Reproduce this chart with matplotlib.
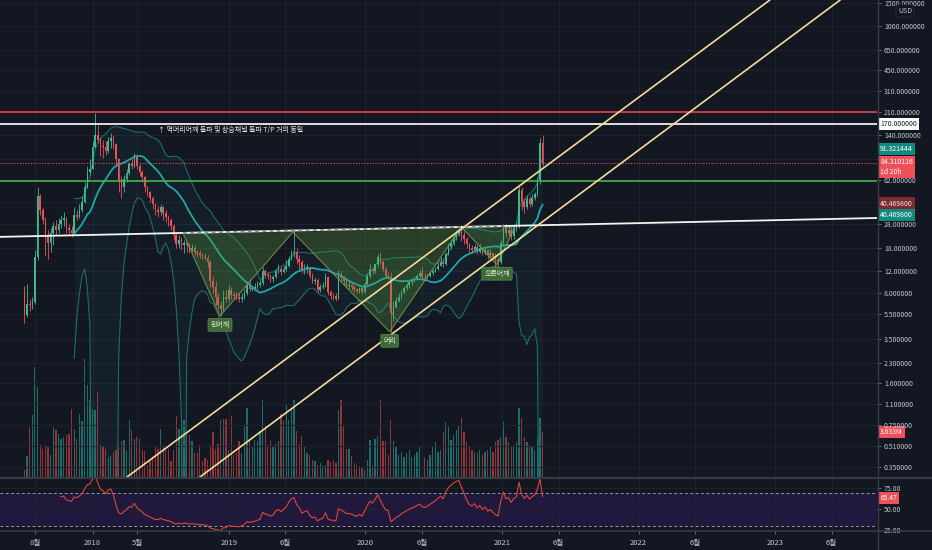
import matplotlib
matplotlib.use('Agg')
import matplotlib.pyplot as plt
import matplotlib.dates as mdates
from matplotlib.lines import Line2D
from matplotlib.ticker import NullLocator
import numpy as np
import pandas as pd

plt.rcParams['font.family'] = ['Noto Sans CJK KR', 'DejaVu Sans']

# weekly candles, first bar opens 2017-07-03
first_week = '2017-07-03'
first_open = 8.5
closes = [5.4, 6.6, 6.5, 6.8, 15.5, 46.0, 36.0, 30.0, 23.0, 20.0,
          24.0, 27.0, 25.0, 28.0, 30.0, 31.0, 26.0, 25.0, 24.0, 33.0,
          32.0, 36.0, 42.0, 55.0, 72.0, 76.0, 112.0, 140.0, 128.0, 115.0,
          112.0, 105.0, 125.0, 132.0, 118.0, 90.0, 60.0, 55.0, 63.0, 70.0,
          82.0, 80.0, 95.0, 80.0, 72.0, 65.0, 55.0, 50.0, 45.0, 40.0,
          36.0, 35.0, 38.0, 34.0, 32.0, 30.0, 27.0, 23.0, 19.5, 21.0,
          19.0, 20.0, 19.0, 17.5, 18.0, 17.0, 16.5, 16.0, 15.5, 15.3,
          14.0, 10.0, 9.0, 7.5, 6.5, 6.0, 7.5, 7.3, 8.5, 7.8,
          7.6, 7.5, 7.2, 7.5, 8.1, 9.2, 8.6, 8.8, 9.0, 9.3,
          9.6, 12.0, 11.2, 11.0, 10.3, 10.7, 12.0, 12.5, 11.8, 12.5,
          13.2, 15.0, 16.5, 17.0, 15.0, 14.0, 12.0, 12.5, 12.8, 11.0,
          10.0, 10.2, 8.5, 9.0, 9.2, 10.8, 8.2, 7.7, 7.6, 7.3,
          11.0, 10.5, 10.0, 9.2, 9.3, 9.0, 8.6, 8.3, 8.8, 8.2,
          9.5, 11.0, 12.5, 12.0, 13.5, 15.5, 14.0, 12.5, 11.0, 10.8,
          5.6, 6.3, 7.0, 7.5, 8.2, 8.8, 9.3, 9.8, 10.2, 10.5,
          11.0, 11.5, 10.8, 10.6, 11.0, 11.5, 12.0, 12.5, 13.2, 14.0,
          13.5, 16.3, 18.5, 20.0, 22.0, 23.5, 24.5, 23.0, 21.5, 19.5,
          18.0, 17.5, 18.5, 17.0, 18.0, 16.5, 17.5, 16.0, 16.5, 15.5,
          14.5, 14.0, 20.0, 27.0, 24.0, 25.0, 22.5, 26.0, 27.0, 52.0,
          42.0, 38.0, 44.0, 40.0, 45.0, 48.0, 62.0, 120.5, 84.310116]
highs = [9.2, 9.5, 7.2, 7.5, 17.5, 55.0, 48.0, 38.0, 32.0, 25.0,
         26.0, 29.0, 30.0, 31.0, 33.0, 35.0, 32.0, 28.0, 27.0, 38.0,
         36.0, 40.0, 46.0, 60.0, 80.0, 90.0, 125.0, 207.0, 168.0, 135.0,
         128.0, 125.0, 135.0, 145.0, 140.0, 120.0, 92.0, 66.0, 68.0, 75.0,
         86.0, 90.0, 100.0, 98.0, 82.0, 74.0, 66.0, 56.0, 51.0, 46.0,
         41.0, 39.0, 40.0, 39.0, 36.0, 33.0, 31.0, 28.0, 24.0, 23.0,
         22.0, 21.0, 20.5, 20.0, 19.5, 19.0, 17.5, 17.5, 16.5, 16.5,
         16.0, 14.5, 11.0, 10.0, 8.0, 7.0, 8.5, 8.5, 9.3, 9.0,
         8.2, 8.2, 8.0, 8.0, 8.6, 10.0, 10.3, 9.3, 9.6, 10.0,
         10.2, 12.8, 12.5, 11.8, 11.3, 11.2, 12.4, 13.5, 13.0, 13.2,
         14.5, 15.8, 17.5, 24.5, 18.0, 16.0, 14.5, 13.5, 13.5, 13.0,
         11.5, 10.8, 10.5, 9.5, 9.8, 11.5, 11.0, 8.5, 8.1, 8.0,
         12.3, 12.0, 11.0, 10.4, 9.8, 9.7, 9.3, 8.9, 9.0, 9.0,
         9.9, 11.5, 13.5, 13.0, 13.8, 16.3, 17.0, 14.5, 13.0, 11.8,
         11.8, 7.0, 7.5, 8.0, 8.5, 9.2, 9.6, 10.2, 10.6, 11.0,
         11.4, 12.3, 12.8, 11.5, 11.4, 11.8, 12.5, 13.0, 14.0, 15.5,
         14.8, 17.0, 20.0, 21.5, 23.0, 25.0, 26.0, 27.5, 24.5, 22.0,
         20.0, 19.0, 19.5, 19.2, 19.5, 18.5, 18.5, 17.8, 17.8, 17.0,
         16.5, 15.5, 21.0, 28.0, 28.5, 27.0, 26.5, 28.0, 29.0, 56.0,
         55.0, 45.0, 47.0, 46.0, 48.0, 50.0, 65.0, 132.0, 140.0]
lows = [4.7, 5.2, 5.8, 6.0, 6.6, 14.5, 33.0, 28.0, 15.8, 15.0,
        17.0, 19.0, 23.0, 24.0, 26.0, 27.0, 24.0, 23.0, 22.0, 24.0,
        30.0, 31.0, 35.0, 41.0, 54.0, 68.0, 76.0, 110.0, 120.0, 95.0,
        92.0, 98.0, 100.0, 110.0, 108.0, 80.0, 50.0, 45.0, 50.0, 60.0,
        68.0, 75.0, 78.0, 76.0, 66.0, 60.0, 50.0, 46.0, 42.0, 37.0,
        33.0, 32.0, 33.0, 30.0, 29.0, 27.0, 25.0, 21.0, 18.0, 18.0,
        17.5, 16.5, 17.0, 16.5, 16.8, 16.0, 15.5, 15.2, 14.8, 14.5,
        13.0, 9.0, 8.0, 6.5, 6.0, 5.3, 5.8, 6.8, 7.0, 7.3,
        7.3, 7.1, 6.8, 6.9, 7.3, 7.8, 8.3, 8.3, 8.4, 8.7,
        9.0, 9.4, 10.5, 10.3, 9.8, 9.8, 10.5, 11.5, 11.2, 11.5,
        12.0, 12.8, 14.5, 15.5, 13.5, 12.0, 11.5, 11.3, 11.5, 10.5,
        9.6, 9.5, 8.2, 8.2, 8.6, 9.0, 7.8, 7.3, 7.1, 7.0,
        7.2, 10.0, 9.4, 8.8, 8.7, 8.5, 8.2, 8.0, 8.0, 7.9,
        8.0, 9.3, 10.6, 11.3, 11.5, 13.0, 13.5, 12.0, 10.6, 10.3,
        4.0, 4.9, 6.2, 6.8, 7.2, 7.9, 8.5, 8.9, 9.4, 9.8,
        10.2, 10.8, 10.3, 10.2, 10.3, 10.7, 11.2, 11.8, 12.2, 13.2,
        12.8, 13.3, 16.0, 17.8, 19.2, 21.0, 22.5, 20.5, 19.5, 18.0,
        16.8, 16.5, 16.8, 16.2, 16.5, 16.0, 16.0, 15.0, 15.2, 14.8,
        13.0, 12.2, 13.5, 19.0, 22.0, 22.5, 21.0, 21.5, 24.5, 26.0,
        36.0, 34.0, 37.0, 38.0, 39.0, 43.0, 46.0, 58.0, 80.0]
# volume in millions
volumes = [0.6, 1.7, 4.0, 5.0, 8.9, 7.3, 2.6, 2.3, 2.6, 2.5,
           1.8, 4.0, 3.8, 3.5, 3.1, 3.2, 3.4, 3.5, 5.5, 3.9,
           3.1, 5.1, 4.5, 9.5, 7.4, 6.2, 5.5, 5.4, 6.9, 2.6,
           2.4, 2.3, 1.6, 1.7, 2.0, 2.2, 2.6, 2.9, 3.0, 2.2,
           4.6, 3.8, 3.1, 3.2, 3.1, 2.2, 2.1, 1.0, 1.3, 1.6,
           2.5, 2.3, 3.9, 2.6, 2.3, 2.3, 1.3, 2.2, 4.9, 3.9,
           4.6, 4.6, 3.4, 3.4, 2.9, 1.9, 1.9, 2.6, 1.3, 1.5,
           1.4, 2.6, 3.6, 2.3, 2.7, 4.6, 4.7, 4.7, 2.2, 4.9,
           1.8, 1.9, 2.9, 1.9, 4.2, 5.6, 2.9, 2.5, 3.0, 2.9,
           3.7, 6.2, 4.1, 2.6, 2.9, 2.4, 2.7, 2.9, 5.1, 4.5,
           5.8, 4.6, 5.5, 6.2, 3.7, 2.7, 3.3, 2.5, 1.9, 1.8,
           1.4, 1.3, 1.0, 1.1, 0.9, 1.0, 1.4, 1.2, 1.4, 1.1,
           5.4, 6.2, 4.1, 2.3, 2.3, 1.7, 1.1, 1.0, 0.9, 0.7,
           0.6, 1.4, 3.0, 0.9, 3.1, 3.3, 6.2, 2.9, 2.9, 1.8,
           4.6, 2.9, 2.4, 1.8, 2.0, 1.6, 1.9, 2.2, 1.6, 1.8,
           2.0, 2.4, 2.1, 1.6, 1.4, 1.8, 2.4, 2.8, 2.0, 2.2,
           3.6, 4.4, 4.0, 3.0, 3.4, 3.8, 4.2, 4.8, 3.6, 2.8,
           2.4, 2.2, 2.0, 1.9, 2.2, 1.8, 2.0, 2.2, 2.4, 2.0,
           2.8, 3.0, 3.2, 4.4, 3.2, 2.8, 2.4, 2.6, 2.8, 5.6,
           4.8, 3.2, 2.8, 2.6, 2.4, 2.2, 3.2, 4.8, 3.633]

# drawings
level_red = 211.0
level_white = 170.0
level_green = 61.0
neck_dates = ['2017-04-29', '2023-09-30']
neck_vals = [22.2, 31.2]
neck_dash_dates = ['2018-08-31', '2021-01-14']
chan_up_dates = ['2018-04-03', '2022-12-18']
chan_lo_dates = ['2018-10-15', '2023-06-24']
chan_vals = [0.292, 1589.0]
hs_dates = ['2018-08-31', '2018-12-08', '2019-06-21', '2020-03-06',
            '2020-09-14', '2020-12-18', '2021-02-04']
hs_vals = [23.8, 5.33, 24.2, 4.0, 26.5, 13.4, 26.5]
hs_labels = {1: '왼어깨', 3: '머리', 5: '오른어깨'}
note_text = '↑ 역머리어깨 돌파 및 상승채널 돌파 T/P 거의 동일'
note_date, note_val = '2018-06-25', 152.0

price_ticks = [1500, 1000, 650, 450, 310, 210, 140, 91, 62, 42, 28, 18, 12,
               8, 5.5, 3.5, 2.3, 1.6, 1.1, 0.75, 0.51, 0.35]
hidden_ticks = [91, 42]
tick_dates = ['2017-08-01', '2018-01-01', '2018-05-01', '2019-01-01', '2019-06-01',
              '2020-01-01', '2020-06-01', '2021-01-01', '2021-06-01', '2022-01-01',
              '2022-06-01', '2023-01-01', '2023-06-01']
tick_labels = ['8월', '2018', '5월', '2019', '6월', '2020', '6월', '2021', '6월',
               '2022', '6월', '2023', '6월']

BG = '#131722'
GRID = '#1e222d'
TXT = '#c3c6ce'
UP = '#3dbb8f'
DN = '#f0505a'
W, H = 932, 550

def dnum(s):
    return mdates.date2num(pd.to_datetime(s).to_pydatetime())

dates = pd.date_range(first_week, periods=len(closes), freq='7D')
xs = mdates.date2num(dates.to_pydatetime())
c = np.array(closes)
o = np.concatenate([[first_open], c[:-1]])
h = np.maximum(np.array(highs), np.maximum(o, c))
l = np.minimum(np.array(lows), np.minimum(o, c))
up = c >= o
cols = np.where(up, UP, DN)
vcols = np.where(up, '#1f8078', '#a83b3e')

# bollinger 20,2
s = pd.Series(c)
basis = s.rolling(20).mean().values
dev = s.rolling(20).std(ddof=0).values
bb_up = basis + 2 * dev
bb_lo = np.clip(basis - 2 * dev, 0.01, None)

# rsi 14 (wilder)
n = 14
delta = np.diff(c)
gain = np.where(delta > 0, delta, 0.0)
loss = np.where(delta < 0, -delta, 0.0)
ag = np.full(len(c), np.nan)
al = np.full(len(c), np.nan)
ag[n] = gain[:n].mean()
al[n] = loss[:n].mean()
for i in range(n + 1, len(c)):
    ag[i] = (ag[i - 1] * (n - 1) + gain[i - 1]) / n
    al[i] = (al[i - 1] * (n - 1) + loss[i - 1]) / n
rsi = 100 - 100 / (1 + ag / al)

base = dnum('2018-01-01')
xlim = (base - 247.5, base + 2098.6)

fig = plt.figure(figsize=(W / 100, H / 100), dpi=100, facecolor=BG)
main_pos = [0, 1 - 477 / H, 877 / W, 477 / H]
rsi_pos = [0, 1 - 531 / H, 877 / W, 52 / H]

axv = fig.add_axes(main_pos, zorder=0)
axv.set_facecolor(BG)
ax = fig.add_axes(main_pos, zorder=1)
ax.set_facecolor('none')
axr = fig.add_axes(rsi_pos)
axr.set_facecolor(BG)

# volume
axv.bar(xs, volumes, width=3.4, color=vcols, alpha=0.85, linewidth=0)
axv.set_ylim(0, 38.5)
axv.set_xlim(*xlim)
axv.axis('off')

# price
ax.set_yscale('log')
ax.fill_between(xs, bb_lo, bb_up, color='#26a69a', alpha=0.06, lw=0, zorder=1)
ax.plot(xs, bb_up, color='#1b6e6f', lw=0.8, zorder=2)
ax.plot(xs, bb_lo, color='#1b6e6f', lw=0.8, zorder=2)
ax.vlines(xs, l, h, colors=cols, lw=0.6, zorder=3)
ax.bar(xs, np.abs(c - o), bottom=np.minimum(o, c), width=4.2, color=cols, linewidth=0, zorder=4)
ax.plot(xs, basis, color='#20a7ab', lw=1.3, zorder=5)

# head and shoulders
hx = [dnum(d) for d in hs_dates]
for a, b, m in [(0, 1, 2), (2, 3, 4), (4, 5, 6)]:
    ax.fill([hx[a], hx[b], hx[m]], [hs_vals[a], hs_vals[b], hs_vals[m]],
            color='#5a9a3a', alpha=0.3, lw=0, zorder=6)
ax.plot(hx, hs_vals, color='#7f9c55', lw=0.8, alpha=0.8, zorder=6)
for k, txt in hs_labels.items():
    ax.annotate(txt, (hx[k], hs_vals[k]), xytext=(0, -3.5), textcoords='offset points',
                ha='center', va='top', fontsize=5, color='#e6e8e0', zorder=12,
                bbox=dict(boxstyle='round,pad=0.35,rounding_size=0.2', fc='#3d6a35', ec='#5f8d4e', lw=0.5))

# levels
ax.axhline(level_red, color='#e8404a', lw=1.2, zorder=7)
ax.axhline(level_white, color='#ffffff', lw=1.2, zorder=7)
ax.axhline(level_green, color='#4caf50', lw=1.2, zorder=7)
ax.axhline(c[-1], color='#f0505a', lw=0.8, ls=(0, (1, 1.5)), zorder=7)

# neckline
nx = [dnum(d) for d in neck_dates]
ax.plot(nx, neck_vals, color='#f4f4f0', lw=1.3, zorder=8)
dx = np.array([dnum(d) for d in neck_dash_dates])
dv = 10 ** np.interp(dx, nx, np.log10(neck_vals))
ax.plot(dx, dv, color='#8a8d86', lw=1.3, ls=(0, (2, 2)), zorder=8)

# rising channel
ax.plot([dnum(d) for d in chan_up_dates], chan_vals, color='#f3dc98', lw=1.2, zorder=9)
ax.plot([dnum(d) for d in chan_lo_dates], chan_vals, color='#f3dc98', lw=1.2, zorder=9)

ax.text(dnum(note_date), note_val, note_text, fontsize=5, color='#e8e9ec',
        ha='left', va='center', zorder=12)

ax.set_xlim(*xlim)
ax.set_ylim(0.2924, 1589)
ax.yaxis.tick_right()
ax.set_yticks(price_ticks)
ax.set_yticklabels(['' if t in hidden_ticks else f'{t:.6f}' for t in price_ticks])
ax.yaxis.set_minor_locator(NullLocator())
ax.tick_params(axis='y', colors='#787b86', labelcolor=TXT, labelsize=5, length=3, width=0.6, pad=2)
ax.set_xticks([dnum(d) for d in tick_dates])
ax.tick_params(axis='x', labelbottom=False, length=0)
ax.grid(True, color=GRID, lw=0.8, zorder=0)
ax.set_axisbelow(True)
for sp in ax.spines.values():
    sp.set_visible(False)

# price tags on the scale
def tag(axis, value, text, face, fg, dy=0, va='center', size=5):
    axis.annotate(text, xy=(1, value), xycoords=axis.get_yaxis_transform(),
                  xytext=(2.3, dy), textcoords='offset points', ha='left', va=va,
                  fontsize=size, color=fg, annotation_clip=False, zorder=20, linespacing=1.25,
                  bbox=dict(boxstyle='square,pad=0.3', fc=face, ec='none'))

tag(ax, level_white, '170.000000', '#ffffff', '#131722')
tag(ax, 91.321444, '91.321444', '#138a80', '#ffffff', dy=6.5)
tag(ax, c[-1], f'{c[-1]:.6f}\n1d 20h', '#f0505a', '#ffffff', dy=3.4, va='top')
tag(ax, 40.4698, '40.469800', '#7c2a30', '#e8e8e8')
tag(ax, 40.4698, '40.469800', '#138a80', '#ffffff', dy=-8)
tag(axv, volumes[-1], f'{volumes[-1]:.3f}M', '#f0505a', '#ffffff')
fig.text(905 / W, 1 - 11 / H, 'USD', fontsize=5, color=TXT, ha='center', va='center',
         bbox=dict(boxstyle='round,pad=0.3', fc=BG, ec='#2a2e39', lw=0.6))

# rsi panel
axr.axhspan(30, 70, color='#21193d', lw=0, zorder=0)
axr.axhline(70, color='#9598a1', lw=0.7, ls=(0, (3, 2.5)), zorder=2)
axr.axhline(30, color='#9598a1', lw=0.7, ls=(0, (3, 2.5)), zorder=2)
axr.plot(xs, rsi, color='#d9473a', lw=0.8, zorder=3)
axr.set_xlim(*xlim)
axr.set_ylim(24.4, 86)
axr.yaxis.tick_right()
axr.set_yticks([25, 50, 75])
axr.set_yticklabels(['25.00', '50.00', '75.00'])
axr.tick_params(axis='y', colors='#787b86', labelcolor=TXT, labelsize=5, length=3, width=0.6, pad=2)
axr.set_xticks([dnum(d) for d in tick_dates])
axr.set_xticklabels(tick_labels)
axr.tick_params(axis='x', colors='#787b86', labelcolor=TXT, labelsize=5.5, length=2, width=0.6, pad=4)
axr.grid(True, color=GRID, lw=0.8, zorder=0)
axr.set_axisbelow(True)
for sp in axr.spines.values():
    sp.set_visible(False)
tag(axr, rsi[-1], f'{rsi[-1]:.2f}', '#f0505a', '#ffffff', dy=-1.0, size=4.8)

# pane separators and price scale border
fig.add_artist(Line2D([0, 1], [1 - 478 / H] * 2, color='#363a45', lw=1.6))
fig.add_artist(Line2D([0, 1], [1 - 531 / H] * 2, color='#363a45', lw=1.2))
fig.add_artist(Line2D([877.5 / W] * 2, [0, 1], color='#363a45', lw=1.0))

fig.savefig('out.png', dpi=100, facecolor=BG)
